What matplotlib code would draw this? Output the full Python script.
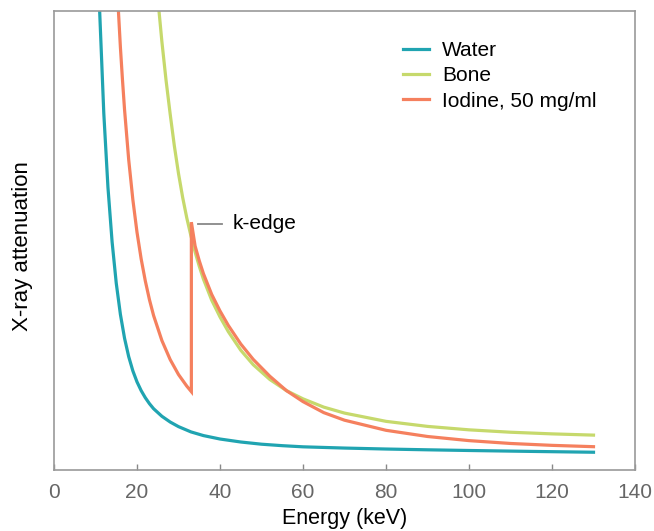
import matplotlib
matplotlib.use("Agg")
import matplotlib.pyplot as plt

plt.rcParams['font.family'] = ['Liberation Sans', 'DejaVu Sans']

# Energy (keV) and relative attenuation (arbitrary units, 0-100 = plot height)
water_E = [11, 12, 13, 14, 15, 16, 17, 18, 19, 20, 21, 22, 23, 24, 26, 28, 30,
           33, 36, 40, 45, 50, 55, 60, 70, 80, 90, 100, 115, 130]
water_y = [100, 77.7, 61.6, 49.7, 40.7, 33.9, 28.7, 24.7, 21.6, 19.2, 17.3, 15.75,
           14.45, 13.35, 11.7, 10.45, 9.45, 8.3, 7.5, 6.75, 6.1, 5.62, 5.3, 5.05,
           4.78, 4.57, 4.4, 4.25, 4.05, 3.87]

bone_E = [25.3, 26, 27, 28, 29, 30, 31, 32, 33, 34, 35, 36, 38, 40, 42, 45, 48,
          52, 56, 60, 65, 70, 80, 90, 100, 110, 120, 130]
bone_y = [100, 93.3, 84.9, 77.5, 70.6, 64.6, 59.4, 54.9, 51.0, 47.5, 44.4, 41.6,
          37.0, 33.35, 30.15, 26.1, 22.95, 19.73, 17.3, 15.5, 13.7, 12.4, 10.6,
          9.5, 8.75, 8.23, 7.87, 7.6]

iodine_E = [15.5, 16, 16.5, 17, 18, 19, 20, 21, 22, 23, 24, 26, 28, 30, 32, 33.1,
            33.1, 34, 35, 36, 38, 40, 42, 45, 48, 52, 56, 60, 65, 70, 80, 90, 100,
            110, 120, 130]
iodine_y = [100.4, 92.1, 85.0, 78.5, 67.6, 58.9, 51.8, 46.0, 41.2, 37.1, 33.65,
            28.2, 24.05, 20.8, 18.27, 17.07,
            54.0, 48.8, 45.6, 42.8, 38.25, 34.65, 31.5, 27.45, 24.1, 20.43, 17.3,
            14.9, 12.5, 10.85, 8.65, 7.3, 6.4, 5.78, 5.37, 5.08]

series_labels = ['Water', 'Bone', 'Iodine, 50 mg/ml']
colors = ['#20a4b1', '#c6d96c', '#f5805e']
xticks = [0, 20, 40, 60, 80, 100, 120, 140]

fig = plt.figure(figsize=(6.54, 5.31), dpi=100)
ax = fig.add_axes([54/654, 61/531, 581/654, 459/531])

ax.plot(water_E, water_y, color=colors[0], lw=2.3, label=series_labels[0],
        solid_joinstyle='round')
ax.plot(bone_E, bone_y, color=colors[1], lw=2.3, label=series_labels[1],
        solid_joinstyle='round')
ax.plot(iodine_E, iodine_y, color=colors[2], lw=2.3, label=series_labels[2],
        solid_joinstyle='miter')

ax.set_xlim(0, 140)
ax.set_ylim(0, 100)
ax.set_xticks(xticks)
ax.set_yticks([])
ax.tick_params(axis='x', direction='in', length=4, width=1, color='#888888',
               labelsize=15, labelcolor='#666666', pad=9)
for s in ax.spines.values():
    s.set_color('#999999')
    s.set_linewidth(1.2)

ax.set_xlabel('Energy (keV)', fontsize=15.5, labelpad=5)
ax.set_ylabel('X-ray attenuation', fontsize=16)
ax.yaxis.set_label_coords(-0.036, 0.487)

# k-edge annotation
ax.plot([34.7, 40.6], [53.6, 53.6], color='#888888', lw=1.3)
ax.text(43.1, 53.6, 'k-edge', fontsize=15, va='center', ha='left')

leg = ax.legend(loc='upper left', bbox_to_anchor=(395/654, 1 - 32.7/531),
                bbox_transform=fig.transFigure, frameon=False, fontsize=15,
                handlelength=1.25, handletextpad=0.6, labelspacing=0.3,
                borderaxespad=0)

fig.savefig('out.png', dpi=100)
